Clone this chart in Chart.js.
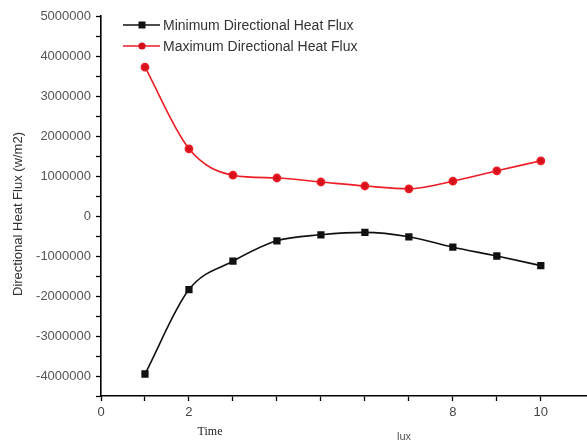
<!DOCTYPE html>
<html><head><meta charset="utf-8">
<script src="https://cdn.jsdelivr.net/npm/chart.js@4/dist/chart.umd.min.js"></script>
<style>html,body{margin:0;padding:0;background:#fff;}#wrap{width:587px;height:443px;position:relative;}</style>
</head><body><div id="wrap"><canvas id="c" width="587" height="443"></canvas></div>
<script>
const times = [1, 2, 3, 4, 5, 6, 7, 8, 9, 10];
const minFlux = [-3950000, -1840000, -1130000, -620000, -470000, -410000, -520000, -780000, -1000000, -1240000];
const maxFlux = [3720000, 1680000, 1020000, 950000, 850000, 750000, 680000, 870000, 1130000, 1380000];
const seriesNames = ['Minimum Directional Heat Flux', 'Maximum Directional Heat Flux'];
const xLabelsShown = [0, 2, 8, 10];
const yTitle = 'Directional Heat Flux (w/m2)';
const xTitle = 'Time';
const strayText = 'lux';

const BLACK = '#111111', RED = '#ee1c25', REDPT = '#d4101c';

const textPlugin = {
  id: 'texts',
  afterDraw(chart) {
    const ctx = chart.ctx;
    ctx.save();
    ctx.fillStyle = '#333';
    ctx.font = '13px "Liberation Sans", Arial, sans-serif';
    ctx.translate(18, 214);
    ctx.rotate(-Math.PI / 2);
    ctx.textAlign = 'center';
    ctx.textBaseline = 'middle';
    ctx.fillText(yTitle, 0, 0);
    ctx.restore();
    ctx.save();
    ctx.fillStyle = '#222';
    ctx.font = '12px "Liberation Serif", "Times New Roman", serif';
    ctx.textAlign = 'center';
    ctx.textBaseline = 'middle';
    ctx.fillText(xTitle, 210, 432);
    ctx.font = '11px "Liberation Sans", Arial, sans-serif';
    ctx.fillStyle = '#555';
    ctx.fillText(strayText, 404, 437);
    const items = [
      {name: seriesNames[0], color: BLACK, pt: BLACK, shape: 'rect', y: 25},
      {name: seriesNames[1], color: RED, pt: REDPT, shape: 'circle', y: 46}
    ];
    ctx.textAlign = 'left';
    ctx.font = '14px "Liberation Sans", Arial, sans-serif';
    items.forEach(it => {
      ctx.strokeStyle = it.color;
      ctx.lineWidth = 1.6;
      ctx.beginPath();
      ctx.moveTo(123, it.y);
      ctx.lineTo(160, it.y);
      ctx.stroke();
      ctx.fillStyle = it.pt;
      if (it.shape === 'rect') {
        ctx.fillRect(138.5, it.y - 3.5, 7, 7);
      } else {
        ctx.beginPath();
        ctx.arc(142, it.y, 3.6, 0, Math.PI * 2);
        ctx.fill();
      }
      ctx.fillStyle = '#333';
      ctx.fillText(it.name, 163, it.y + 1);
    });
    ctx.restore();
  }
};

new Chart(document.getElementById('c'), {
  type: 'line',
  data: {
    datasets: [
      {
        label: seriesNames[0],
        data: times.map((t, i) => ({x: t, y: minFlux[i]})),
        borderColor: BLACK, backgroundColor: BLACK,
        borderWidth: 1.6, pointStyle: 'rect', pointRadius: 4, pointHoverRadius: 4,
        tension: 0.4, cubicInterpolationMode: 'monotone'
      },
      {
        label: seriesNames[1],
        data: times.map((t, i) => ({x: t, y: maxFlux[i]})),
        borderColor: RED, backgroundColor: REDPT,
        borderWidth: 1.6, pointStyle: 'circle', pointRadius: 3.6, pointHoverRadius: 3.6,
        tension: 0.4, cubicInterpolationMode: 'monotone'
      }
    ]
  },
  options: {
    responsive: false,
    animation: false,
    devicePixelRatio: 1,
    layout: {autoPadding: false, padding: {left: 0, right: 0, top: 16, bottom: 0}},
    plugins: {legend: {display: false}, tooltip: {enabled: false}},
    scales: {
      x: {
        type: 'linear', min: 0, max: 11.05,
        afterBuildTicks: s => { s.ticks = s.ticks.filter(t => Number.isInteger(t.value)); },
        afterFit: s => { s.height = 47; s.paddingRight = 0; s.paddingLeft = 0; },
        ticks: {
          stepSize: 1, autoSkip: false, maxRotation: 0, padding: 4,
          color: '#444', font: {size: 13, family: '"Liberation Sans", Arial, sans-serif'},
          callback: v => xLabelsShown.includes(v) ? String(v) : ''
        },
        grid: {display: true, drawOnChartArea: false, drawTicks: true, tickLength: 5, color: '#000', tickWidth: 1.3},
        border: {display: true, color: '#000', width: 1.6}
      },
      y: {
        min: -4500000, max: 5000000,
        afterFit: s => { s.width = 101; },
        ticks: {
          stepSize: 500000, autoSkip: false, padding: 5,
          color: '#555', font: {size: 13, family: '"Liberation Sans", Arial, sans-serif'},
          callback: v => (v % 1000000 === 0) ? String(v) : ''
        },
        grid: {display: true, drawOnChartArea: false, drawTicks: true, tickLength: 5, color: '#000', tickWidth: 1.3},
        border: {display: true, color: '#000', width: 1.6}
      }
    }
  },
  plugins: [textPlugin]
});
</script>
</body></html>
